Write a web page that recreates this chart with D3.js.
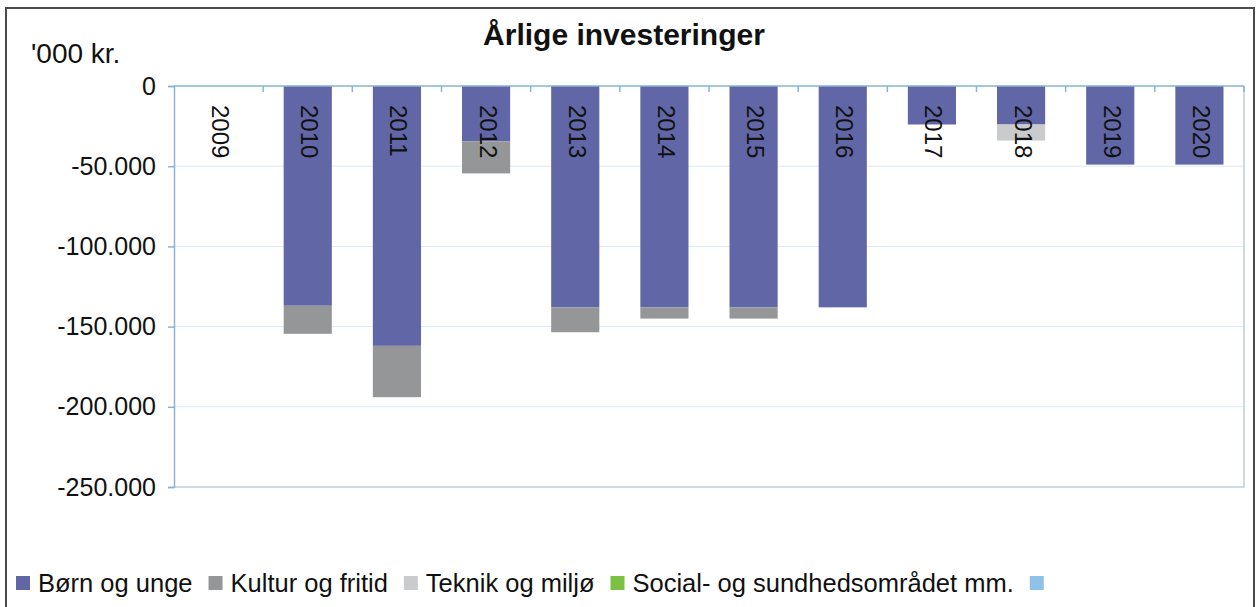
<!DOCTYPE html>
<html>
<head>
<meta charset="utf-8">
<script src="https://cdn.jsdelivr.net/npm/d3@7"></script>
<style>
  body { margin: 0; background: #fff; }
  svg { display: block; font-family: "Liberation Sans", Arial, sans-serif; }
</style>
</head>
<body>
<div class="chart"></div>
<script>

const years = ["2009", "2010", "2011", "2012", "2013", "2014", "2015", "2016", "2017", "2018", "2019", "2020"];
const bornUnge = [0, -137000, -162000, -34500, -138000, -138000, -138000, -138000, -24000, -24000, -49000, -49000];
const kulturFritid = [0, -17500, -32000, -20000, -15500, -7000, -7000, 0, 0, 0, 0, 0];
const teknikMiljo = [0, 0, 0, 0, 0, 0, 0, 0, 0, -10000, 0, 0];
const socialSundhed = [0, 0, 0, 0, 0, 0, 0, 0, 0, 0, 0, 0];
const ovrige = [0, 0, 0, 0, 0, 0, 0, 0, 0, 0, 0, 0];
const seriesNames = ["Børn og unge", "Kultur og fritid", "Teknik og miljø", "Social- og sundhedsområdet mm.", ""];
const yTicks = [0, -50000, -100000, -150000, -200000, -250000];

const width = 1259;
const height = 607;
const margin = { top: 86, left: 174, right: 15, bottom: 120 };

const svg = d3.select(".chart")
  .append("svg")
    .attr("width", width)
    .attr("height", height);

// outer frame
svg.append("rect")
  .attr("x", 6).attr("y", 8)
  .attr("width", 1248).attr("height", 620)
  .attr("fill", "#fff")
  .attr("stroke", "#4a4a4a")
  .attr("stroke-width", 2);

const table = years.map((y, i) => ({
  year: y,
  s0: bornUnge[i],
  s1: kulturFritid[i],
  s2: teknikMiljo[i],
  s3: socialSundhed[i],
  s4: ovrige[i]
}));
const keys = ["s0", "s1", "s2", "s3", "s4"];
const colors = ["#6166a6", "#949698", "#c9cbcd", "#7cc142", "#8fc1e9"];

const stacked = d3.stack()
  .keys(keys)
  .offset(d3.stackOffsetDiverging)(table);

const x = d3.scaleBand()
  .domain(years)
  .range([margin.left, width - margin.right])
  .paddingInner(0.46)
  .paddingOuter(0.23);

const y = d3.scaleLinear()
  .domain([0, -250000])
  .range([margin.top, height - margin.bottom]);

const plotRight = width - margin.right;

// gridlines
svg.append("g")
  .selectAll("line")
  .data(yTicks.slice(1, -1)).enter()
  .append("line")
    .attr("x1", margin.left).attr("x2", plotRight)
    .attr("y1", d => y(d)).attr("y2", d => y(d))
    .attr("stroke", "#dceaf4")
    .attr("stroke-width", 1);

// plot area right & bottom border
svg.append("path")
  .attr("d", `M${plotRight},${y(0)}V${y(-250000)}H${margin.left}`)
  .attr("fill", "none")
  .attr("stroke", "#bfcfdb")
  .attr("stroke-width", 1.5);

// bars
svg.append("g")
  .selectAll("g")
  .data(stacked).enter()
  .append("g")
    .attr("fill", (d, i) => colors[i])
  .selectAll("rect")
  .data(d => d).enter()
  .append("rect")
    .attr("x", d => x(d.data.year))
    .attr("width", x.bandwidth())
    .attr("y", d => y(d[1]))
    .attr("height", d => Math.max(0, y(d[0]) - y(d[1])));

// y axis
const yAxis = svg.append("g")
  .attr("transform", `translate(${margin.left},0)`)
  .call(d3.axisLeft(y)
    .tickValues(yTicks)
    .tickSize(6)
    .tickPadding(12)
    .tickFormat(d => d3.format(",")(d).replace(/,/g, ".").replace("−", "-")));
yAxis.select(".domain").attr("stroke", "#86b5d6").attr("stroke-width", 1.5);
yAxis.selectAll(".tick line").attr("stroke", "#86b5d6").attr("stroke-width", 1.5);
yAxis.selectAll(".tick text")
  .attr("font-size", 25)
  .attr("fill", "#111")
  .attr("font-family", "Liberation Sans, Arial, sans-serif");

// x axis at zero (ticks between categories, pointing into the plot)
svg.append("line")
  .attr("x1", margin.left).attr("x2", plotRight)
  .attr("y1", y(0)).attr("y2", y(0))
  .attr("stroke", "#86b5d6")
  .attr("stroke-width", 1.5);
svg.append("g")
  .selectAll("line")
  .data(years).enter()
  .append("line")
    .attr("x1", d => x(d) - x.step() * 0.23 + x.step())
    .attr("x2", d => x(d) - x.step() * 0.23 + x.step())
    .attr("y1", y(0)).attr("y2", y(0) + 6)
    .attr("stroke", "#86b5d6")
    .attr("stroke-width", 1.5);

// category labels, rotated
svg.append("g")
  .selectAll("text")
  .data(years).enter()
  .append("text")
    .attr("transform", d => `translate(${x(d) + x.bandwidth() / 2 + 2},${y(0) + 19}) rotate(90)`)
    .attr("dominant-baseline", "central")
    .attr("font-size", 24)
    .attr("fill", "#111")
    .text(d => d);

// title & unit
svg.append("text")
  .attr("x", 624).attr("y", 45)
  .attr("text-anchor", "middle")
  .attr("font-size", 30)
  .attr("font-weight", "bold")
  .attr("fill", "#111")
  .text("Årlige investeringer");

svg.append("text")
  .attr("x", 31).attr("y", 63)
  .attr("font-size", 28)
  .attr("fill", "#111")
  .text("'000 kr.");

// legend
const legend = svg.append("g").attr("transform", "translate(16,583)");
let lx = 0;
seriesNames.forEach((name, i) => {
  const item = legend.append("g").attr("transform", `translate(${lx},0)`);
  item.append("rect")
    .attr("x", 0).attr("y", -7)
    .attr("width", 14).attr("height", 14)
    .attr("fill", colors[i]);
  const t = item.append("text")
    .attr("x", 22).attr("y", 9)
    .attr("font-size", 25.5)
    .attr("fill", "#111")
    .text(name);
  lx += 22 + t.node().getComputedTextLength() + 16;
});
</script>
</body>
</html>
